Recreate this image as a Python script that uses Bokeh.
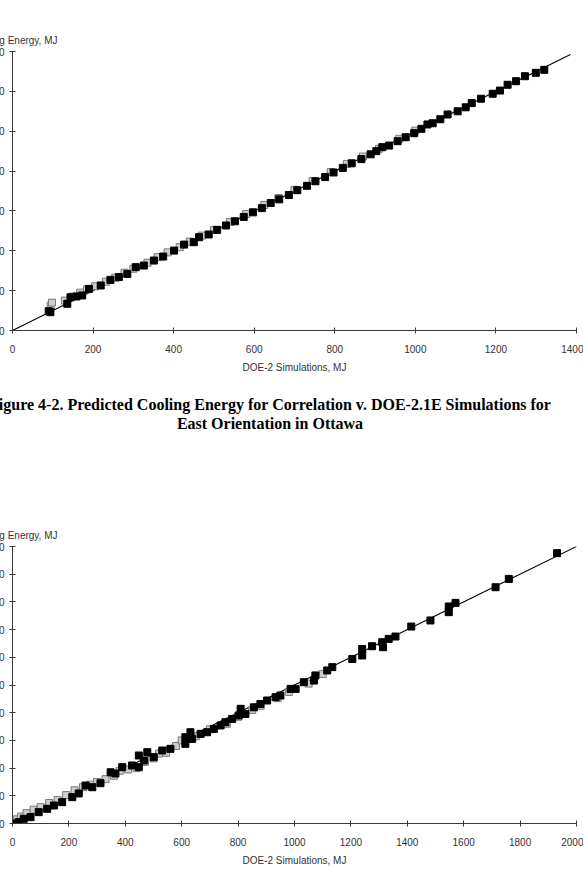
from bokeh.plotting import figure
from bokeh.models import Range1d, SingleIntervalTicker, Title, Div
from bokeh.layouts import column
from bokeh.embed import file_html
from bokeh.resources import INLINE

# ---------------- data: chart 1 (Ottawa, east) ----------------
c1_black_x = [90, 94, 136, 144, 159, 173, 190, 219, 243, 264, 285, 306, 326, 351, 374, 401, 426, 450, 463, 487,
              508, 530, 552, 574, 597, 619, 641, 662, 686, 707, 731, 752, 776, 797, 820, 842, 866, 889, 903, 918,
              935, 956, 976, 997, 1015, 1030, 1043, 1062, 1080, 1105, 1125, 1140, 1163, 1192, 1210, 1229, 1250, 1272, 1299, 1320]
c1_black_y = [97, 92, 134, 167, 171, 176, 209, 226, 254, 268, 284, 318, 326, 351, 371, 401, 431, 443, 468, 482,
              505, 527, 548, 570, 593, 614, 640, 658, 680, 704, 726, 749, 770, 793, 816, 839, 860, 884, 900, 920,
              928, 950, 970, 990, 1012, 1034, 1040, 1060, 1084, 1100, 1120, 1141, 1163, 1188, 1204, 1233, 1251, 1276, 1293, 1308]
c1_gray_x = [95, 98, 130, 150, 168, 185, 205, 232, 255, 278, 300, 335, 360, 385, 415, 440, 470, 500, 540, 580,
             625, 660, 700, 745, 790, 830, 870, 910, 960, 1000]
c1_gray_y = [125, 140, 150, 170, 190, 207, 222, 245, 265, 290, 310, 340, 368, 392, 418, 446, 476, 505, 545, 585,
             630, 665, 706, 750, 795, 836, 873, 912, 962, 1003]
c1_line_x = [0, 1385]
c1_line_y = [0, 1385]

# ---------------- data: chart 2 ----------------
c2_black_x = [5, 22, 40, 64, 93, 123, 147, 176, 212, 235, 259, 283, 312, 348, 365, 389, 424, 448, 448, 466,
              478, 501, 531, 560, 613, 613, 631, 637, 667, 690, 714, 738, 755, 779, 802, 809, 826, 856, 879, 903,
              933, 950, 986, 1004, 1033, 1069, 1074, 1116, 1134, 1205, 1240, 1240, 1275, 1311, 1314, 1334, 1358, 1414, 1482, 1547,
              1547, 1571, 1713, 1760, 1931]
c2_black_y = [0, 10, 34, 46, 82, 106, 130, 154, 190, 217, 274, 262, 291, 370, 361, 407, 419, 407, 491, 455,
              515, 479, 527, 539, 623, 575, 659, 611, 647, 659, 683, 708, 731, 755, 780, 828, 791, 839, 863, 888,
              912, 924, 972, 972, 1020, 1032, 1069, 1105, 1129, 1188, 1260, 1213, 1280, 1309, 1273, 1333, 1350, 1422, 1466, 1567,
              1526, 1593, 1706, 1766, 1952]
c2_gray_x = [15, 30, 50, 75, 100, 130, 160, 190, 220, 250, 275, 300, 330, 360, 380, 410, 440, 470, 500, 520,
             545, 580, 600, 650, 700, 760, 800, 850, 880, 940, 980, 1050, 1100]
c2_gray_y = [30, 50, 75, 100, 118, 148, 170, 205, 240, 262, 280, 300, 320, 345, 380, 390, 400, 445, 470, 505,
             510, 560, 600, 630, 680, 720, 770, 820, 850, 905, 950, 1010, 1080]
c2_line_x = [0, 2005]
c2_line_y = [0, 2005]

x_title = "DOE-2 Simulations, MJ"
y_title = "Predicted Cooling Energy, MJ"
caption_1 = "Figure 4-2. Predicted Cooling Energy for Correlation v. DOE-2.1E Simulations for"
caption_2 = "East Orientation in Ottawa"

FONT = "Liberation Sans"
AX = "#3a3a3a"


def make_fig(vmax, height, top, bottom, bx, by, gx, gy, lx, ly):
    p = figure(width=621, height=height,
               x_range=Range1d(0, vmax), y_range=Range1d(0, vmax),
               output_backend="svg", toolbar_location=None,
               min_border_left=50, min_border_right=7,
               min_border_top=top, min_border_bottom=bottom,
               margin=(0, 0, 0, 0))
    p.outline_line_color = None
    p.xgrid.visible = False
    p.ygrid.visible = False
    for ax in (p.xaxis[0], p.yaxis[0]):
        ax.ticker = SingleIntervalTicker(interval=200, num_minor_ticks=0)
        ax.minor_tick_line_color = None
        ax.axis_line_color = AX
        ax.major_tick_line_color = AX
        ax.major_tick_in = 3
        ax.major_tick_out = 3
        ax.major_label_text_font = FONT
        ax.major_label_text_font_size = "10px"
        ax.major_label_text_color = "#333333"
    p.xaxis.major_label_standoff = 11
    p.yaxis.major_label_standoff = 5
    p.xaxis.axis_label = x_title
    p.xaxis.axis_label_text_font = FONT
    p.xaxis.axis_label_text_font_size = "10px"
    p.xaxis.axis_label_text_font_style = "normal"
    p.xaxis.axis_label_text_color = "#333333"
    p.xaxis.axis_label_standoff = 6
    p.add_layout(Title(text=y_title, align="right", offset=519, standoff=12,
                       text_font=FONT, text_font_size="10px", text_font_style="normal",
                       text_color="#333333"), "above")
    p.line(lx, ly, line_color="black", line_width=1.1)
    p.scatter(gx, gy, marker="square", size=7, fill_color="#cdcdcd", line_color="#7a7a7a", line_width=1)
    p.scatter(bx, by, marker="square", size=7, fill_color="black", line_color="black")
    return p


p1 = make_fig(1400, 380, 51, 50, c1_black_x, c1_black_y, c1_gray_x, c1_gray_y, c1_line_x, c1_line_y)
p2 = make_fig(2000, 419, 86, 56, c2_black_x, c2_black_y, c2_gray_x, c2_gray_y, c2_line_x, c2_line_y)

cap = Div(text=(
    '<div style="width:600px;margin-left:8px;padding-top:15px;text-align:center;'
    "font-family:'Liberation Serif';font-weight:bold;font-size:16px;line-height:19px;"
    'color:#000;white-space:nowrap;">'
    + caption_1 + "<br>" + caption_2 + "</div>"), width=621, height=80, margin=(0, 0, 0, 0))

layout = column(p1, cap, p2, width=621, margin=(0, 0, 0, -38),
                styles={"overflow": "hidden"})
open("out.html", "w").write(file_html(layout, INLINE))
